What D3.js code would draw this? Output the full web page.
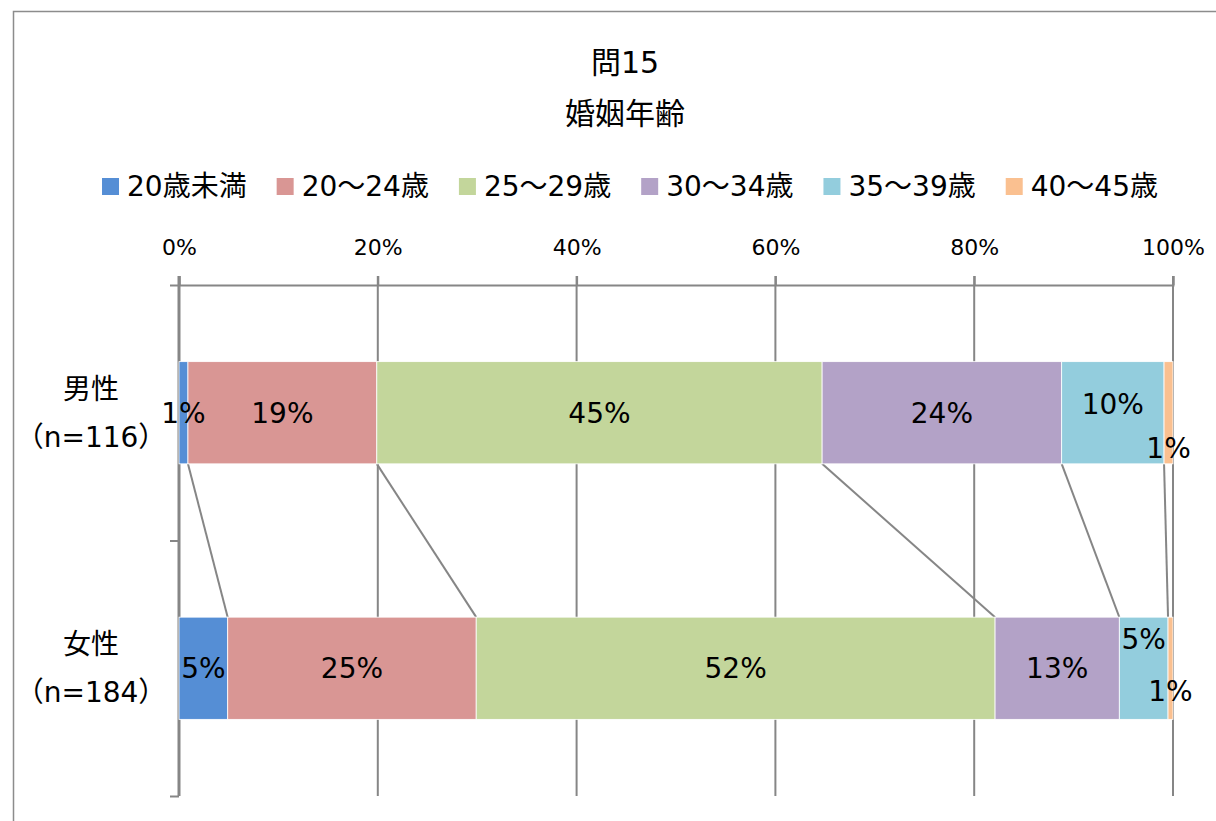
<!DOCTYPE html>
<html lang="ja">
<head>
<meta charset="UTF-8">
<title>問15 婚姻年齢</title>
<style>
  body { margin: 0; background: #fff; }
  svg { display: block; font-family: "DejaVu Sans", "Noto Sans CJK JP", sans-serif; }
</style>
</head>
<body>
<svg id="chart" width="1216" height="821"></svg>
<script src="https://d3js.org/d3.v7.min.js"></script>
<script>
// data (percent of respondents)
var categories = ["男性", "女性"];
var sampleLabels = ["（n=116）", "（n=184）"];
var seriesNames = ["20歳未満", "20～24歳", "25～29歳", "30～34歳", "35～39歳", "40～45歳"];
var male = [0.9, 19.0, 44.8, 24.1, 10.3, 0.9];
var female = [4.9, 25.0, 52.2, 12.5, 4.9, 0.5];
var xTicks = [0, 20, 40, 60, 80, 100];

var colors = ["#558ED5", "#D99694", "#C3D69B", "#B3A2C7", "#93CDDD", "#FAC090"];
var gridColor = "#868686";

var svg = d3.select("#chart");

// outer frame
svg.append("rect")
  .attr("x", 13.5).attr("y", 11.5)
  .attr("width", 1240).attr("height", 840)
  .attr("fill", "none").attr("stroke", "#8c8c8c").attr("stroke-width", 1.5);

// titles
svg.append("text").attr("x", 625).attr("y", 73).attr("text-anchor", "middle")
  .attr("font-size", 30).text("問15");
svg.append("text").attr("x", 625).attr("y", 124).attr("text-anchor", "middle")
  .attr("font-size", 30).text("婚姻年齢");

// legend
var legend = svg.append("g");
var lx = 0;
seriesNames.forEach(function(name, i) {
  var g = legend.append("g").attr("transform", "translate(" + lx + ",0)");
  g.append("rect").attr("x", 0).attr("y", 178).attr("width", 17).attr("height", 17).attr("fill", colors[i]);
  var t = g.append("text").attr("x", 25).attr("y", 196).attr("font-size", 28).text(name);
  lx += 25 + t.node().getComputedTextLength() + 30;
});
var legendW = lx - 30;
legend.attr("transform", "translate(" + (630 - legendW / 2) + ",0)");

// scales
var x = d3.scaleLinear().domain([0, 100]).range([179, 1173]);
var y = d3.scaleBand().domain(categories).range([285, 796]).padding(0);
var barH = y.bandwidth() * 0.4;

// gridlines
svg.append("g").selectAll("line").data(xTicks).enter().append("line")
  .attr("x1", function(d) { return x(d); }).attr("x2", function(d) { return x(d); })
  .attr("y1", 276).attr("y2", 796)
  .attr("stroke", gridColor).attr("stroke-width", 2);

// top axis
var xAxis = svg.append("g").attr("transform", "translate(0,285)")
  .call(d3.axisTop(x).tickValues(xTicks).tickSize(9).tickPadding(21)
    .tickFormat(function(d) { return d + "%"; }));
xAxis.select(".domain").attr("stroke", gridColor).attr("stroke-width", 2);
xAxis.selectAll(".tick line").attr("stroke", gridColor).attr("stroke-width", 2);
xAxis.selectAll("text").attr("font-size", 22).attr("fill", "#000")
  .attr("font-family", "DejaVu Sans, Noto Sans CJK JP, sans-serif");

// left category axis
var yAxis = svg.append("g").attr("transform", "translate(179,0)")
  .call(d3.axisLeft(d3.scaleLinear().domain([0, 2]).range([285, 796]))
    .tickValues([0, 1, 2]).tickSize(9).tickFormat(""));
yAxis.select(".domain").attr("stroke", gridColor).attr("stroke-width", 3)
  .attr("d", "M0,276V796");
yAxis.selectAll(".tick line").attr("stroke", gridColor).attr("stroke-width", 2);

// category labels
categories.forEach(function(c, i) {
  var cy = y(c) + y.bandwidth() / 2;
  svg.append("text").attr("x", 91).attr("y", cy - 14).attr("text-anchor", "middle")
    .attr("font-size", 28).text(c);
  svg.append("text").attr("x", 91).attr("y", cy + 34).attr("text-anchor", "middle")
    .attr("font-size", 28).text(sampleLabels[i]);
});

// stacked data
var rows = [male, female].map(function(vals, r) {
  var acc = 0;
  return vals.map(function(v, i) {
    var s = { cat: categories[r], i: i, v: v, x0: acc, x1: acc + v };
    acc += v;
    return s;
  });
});

// series lines between bars
for (var i = 0; i < seriesNames.length - 1; i++) {
  svg.append("line")
    .attr("x1", x(rows[0][i].x1)).attr("y1", y(categories[0]) + y.bandwidth() / 2 + barH / 2)
    .attr("x2", x(rows[1][i].x1)).attr("y2", y(categories[1]) + y.bandwidth() / 2 - barH / 2)
    .attr("stroke", gridColor).attr("stroke-width", 2);
}

// bars
var segs = rows[0].concat(rows[1]);
svg.append("g").selectAll("rect").data(segs).enter().append("rect")
  .attr("x", function(d) { return x(d.x0); })
  .attr("width", function(d) { return x(d.x1) - x(d.x0); })
  .attr("y", function(d) { return y(d.cat) + y.bandwidth() / 2 - barH / 2; })
  .attr("height", barH)
  .attr("fill", function(d) { return colors[d.i]; })
  .attr("stroke", "#fff").attr("stroke-width", 0.8);

// label nudges, as Excel placed them
var nudge = { "男性-4": -9, "男性-5": 35, "女性-4": -29, "女性-5": 23 };

svg.append("g").selectAll("text").data(segs).enter().append("text")
  .attr("x", function(d) { return x((d.x0 + d.x1) / 2); })
  .attr("y", function(d) { return y(d.cat) + y.bandwidth() / 2 + 10 + (nudge[d.cat + "-" + d.i] || 0); })
  .attr("text-anchor", "middle")
  .attr("font-size", 28)
  .text(function(d) { return Math.round(d.v) + "%"; });
</script>
</body>
</html>
